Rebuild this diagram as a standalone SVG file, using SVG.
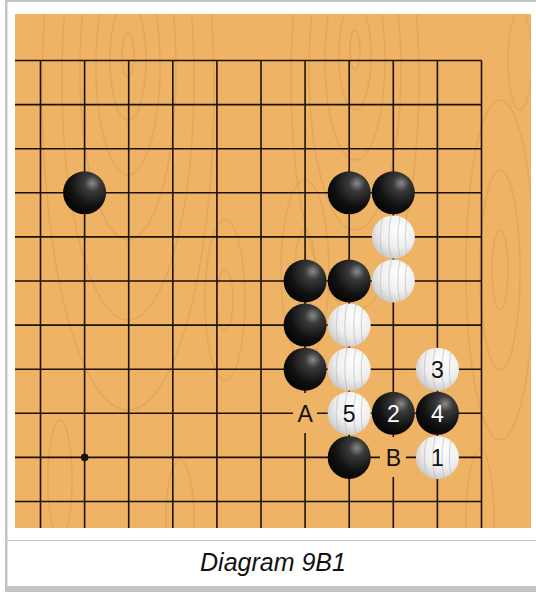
<svg xmlns="http://www.w3.org/2000/svg" width="536" height="592" viewBox="0 0 536 592">
<style>
.grid{stroke:#1c120a;stroke-width:1.6;fill:none}
.grain{fill:none;stroke:#c98b44;stroke-opacity:0.28;stroke-width:1.6}
.lbl{font-family:"Liberation Sans",Arial,sans-serif;font-size:23px;text-anchor:middle}
.onw{fill:#111}
.onb{fill:#fff}
.cap{font-family:"Liberation Sans",Arial,sans-serif;font-size:25px;font-style:italic;text-anchor:middle;fill:#111}
</style>
<defs>
<radialGradient id="gb" cx="0.68" cy="0.28" r="0.75">
<stop offset="0" stop-color="#8a8a8a"/>
<stop offset="0.25" stop-color="#3a3a3a"/>
<stop offset="0.7" stop-color="#111"/>
<stop offset="1" stop-color="#050505"/>
</radialGradient>
<radialGradient id="gw" cx="0.62" cy="0.32" r="0.8">
<stop offset="0" stop-color="#ffffff"/>
<stop offset="0.55" stop-color="#eeeeee"/>
<stop offset="0.85" stop-color="#cfcfcf"/>
<stop offset="1" stop-color="#b8b8b8"/>
</radialGradient>
<clipPath id="cw"><circle r="21.5"/></clipPath>
<g id="B"><circle r="21.5" fill="url(#gb)"/></g>
<g id="W"><circle r="21.5" fill="url(#gw)"/>
<g clip-path="url(#cw)" fill="none" stroke="#b9b9b9" stroke-opacity="0.55" stroke-width="1.2">
<path d="M-10,-22 Q-16,0 -10,22"/><path d="M-2,-22 Q-7,0 -2,22"/><path d="M7,-22 Q2,0 7,22"/><path d="M14,-20 Q10,0 14,20"/>
</g></g>
<clipPath id="board"><rect x="15" y="14" width="516" height="514"/></clipPath>
</defs>
<rect width="536" height="592" fill="#fff"/>
<rect x="5" y="0" width="2.5" height="592" fill="#c4c4c4"/>
<rect x="5" y="0" width="531" height="2" fill="#c4c4c4"/>
<rect x="5" y="586" width="531" height="6" fill="#c4c4c4"/>
<line x1="7" y1="540.5" x2="536" y2="540.5" stroke="#c4c4c4" stroke-width="1.2"/>
<rect x="15" y="14" width="516" height="514" fill="#eeb364"/>
<g clip-path="url(#board)">
<g class="grain">
<ellipse cx="128" cy="55" rx="6" ry="22"/><ellipse cx="128" cy="60" rx="18" ry="60"/><ellipse cx="128" cy="65" rx="32" ry="110"/><ellipse cx="128" cy="70" rx="48" ry="170"/><ellipse cx="128" cy="80" rx="66" ry="240"/><ellipse cx="128" cy="90" rx="86" ry="320"/>
<ellipse cx="355" cy="50" rx="5" ry="20"/><ellipse cx="355" cy="55" rx="16" ry="55"/><ellipse cx="355" cy="60" rx="30" ry="100"/><ellipse cx="355" cy="70" rx="46" ry="160"/><ellipse cx="355" cy="80" rx="64" ry="230"/>
<ellipse cx="305" cy="270" rx="10" ry="40"/><ellipse cx="305" cy="270" rx="24" ry="90"/>
<ellipse cx="500" cy="270" rx="8" ry="40"/><ellipse cx="500" cy="270" rx="20" ry="100"/><ellipse cx="500" cy="270" rx="34" ry="170"/><ellipse cx="520" cy="60" rx="12" ry="50"/>
<ellipse cx="225" cy="300" rx="8" ry="30"/><ellipse cx="225" cy="300" rx="20" ry="80"/>
<ellipse cx="180" cy="520" rx="14" ry="60"/><ellipse cx="60" cy="480" rx="12" ry="60"/><ellipse cx="480" cy="520" rx="14" ry="70"/>
</g>
</g>
<g id="grid" class="grid">
<path d="M15,60.5H481.5M15,104.6H481.5M15,148.7H481.5M15,192.8H481.5M15,236.9H481.5M15,281H481.5M15,325.1H481.5M15,369.2H481.5M15,413.3H293M317,413.3H481.5M15,457.4H380M406,457.4H481.5M15,501.5H481.5"/>
<path d="M40.5,60.5V528M84.6,60.5V528M128.7,60.5V528M172.8,60.5V528M216.9,60.5V528M261,60.5V528M305.1,60.5V393M305.1,433V528M349.2,60.5V528M393.3,60.5V437M393.3,477V528M437.4,60.5V528M481.5,60.5V528"/>
</g>
<circle cx="84.6" cy="457.4" r="3.8" fill="#1c120a"/>
<g id="stones">
<g id="s-b1"><use href="#B" x="84.6" y="192.8"/></g>
<g id="s-b2"><use href="#B" x="349.2" y="192.8"/></g>
<g id="s-b3"><use href="#B" x="393.3" y="192.8"/></g>
<g id="s-w1"><use href="#W" x="393.3" y="236.9"/></g>
<g id="s-b4"><use href="#B" x="305.1" y="281"/></g>
<g id="s-b5"><use href="#B" x="349.2" y="281"/></g>
<g id="s-w2"><use href="#W" x="393.3" y="281"/></g>
<g id="s-b6"><use href="#B" x="305.1" y="325.1"/></g>
<g id="s-w3"><use href="#W" x="349.2" y="325.1"/></g>
<g id="s-b7"><use href="#B" x="305.1" y="369.2"/></g>
<g id="s-w4"><use href="#W" x="349.2" y="369.2"/></g>
<g id="m3"><use href="#W" x="437.4" y="369.2"/><text class="lbl onw" x="437.4" y="377.5">3</text></g>
<g id="m5"><use href="#W" x="349.2" y="413.3"/><text class="lbl onw" x="349.2" y="421.6">5</text></g>
<g id="m2"><use href="#B" x="393.3" y="413.3"/><text class="lbl onb" x="393.3" y="421.6">2</text></g>
<g id="m4"><use href="#B" x="437.4" y="413.3"/><text class="lbl onb" x="437.4" y="421.6">4</text></g>
<g id="s-b8"><use href="#B" x="349.2" y="457.4"/></g>
<g id="m1"><use href="#W" x="437.4" y="457.4"/><text class="lbl onw" x="437.4" y="465.7">1</text></g>
<g id="lA"><text class="lbl onw" x="305.1" y="421.6">A</text></g>
<g id="lB"><text class="lbl onw" x="393.3" y="465.7">B</text></g>
</g>
<text class="cap" x="273" y="571">Diagram 9B1</text>
</svg>
